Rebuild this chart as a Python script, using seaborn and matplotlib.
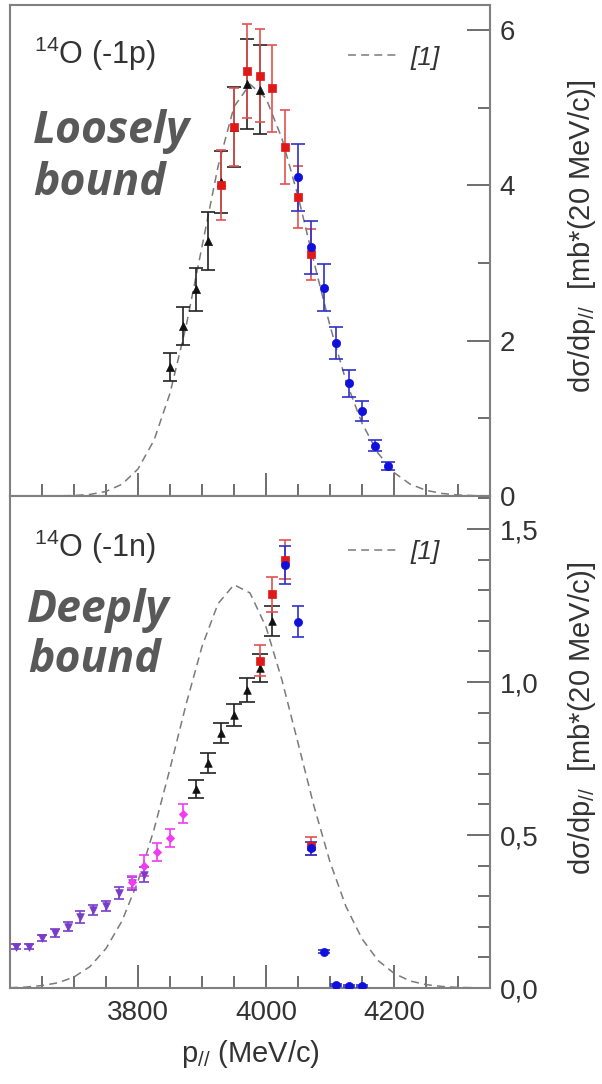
import matplotlib
matplotlib.use("Agg")
import matplotlib.pyplot as plt
from matplotlib.ticker import FixedLocator, FixedFormatter, MultipleLocator
import pandas as pd
import seaborn as sns

# ---------------- data ----------------
# 14O(-1p): loosely bound proton removal
p_black_1p = [3850, 3870, 3890, 3910, 3930, 3950, 3970, 3990]
s_black_1p = [1.66, 2.19, 2.66, 3.28, 4.04, 4.75, 5.30, 5.23]
e_black_1p = [0.18, 0.24, 0.28, 0.37, 0.40, 0.51, 0.58, 0.57]

p_red_1p = [3930, 3950, 3970, 3990, 4010, 4030, 4050, 4070]
s_red_1p = [4.00, 4.75, 5.47, 5.41, 5.25, 4.49, 3.85, 3.11]
e_red_1p = [0.45, 0.50, 0.61, 0.60, 0.56, 0.48, 0.40, 0.33]

p_blue_1p = [4050, 4070, 4090, 4110, 4130, 4150, 4170, 4190]
s_blue_1p = [4.10, 3.20, 2.68, 1.97, 1.45, 1.09, 0.645, 0.39]
e_blue_1p = [0.43, 0.34, 0.30, 0.21, 0.17, 0.13, 0.07, 0.05]

# 14O(-1n): deeply bound neutron removal
p_purple_1n = [3610, 3630, 3650, 3670, 3690, 3710, 3730, 3750, 3770, 3790, 3810]
s_purple_1n = [0.135, 0.135, 0.162, 0.180, 0.200, 0.233, 0.255, 0.268, 0.310, 0.342, 0.370]
e_purple_1n = [0.008, 0.008, 0.010, 0.012, 0.015, 0.020, 0.017, 0.017, 0.020, 0.022, 0.025]

p_magenta_1n = [3790, 3810, 3830, 3850, 3870]
s_magenta_1n = [0.347, 0.400, 0.445, 0.490, 0.570]
e_magenta_1n = [0.020, 0.035, 0.030, 0.030, 0.030]

p_black_1n = [3890, 3910, 3930, 3950, 3970, 3990, 4010]
s_black_1n = [0.650, 0.736, 0.833, 0.892, 0.974, 1.045, 1.200]
e_black_1n = [0.030, 0.032, 0.033, 0.036, 0.038, 0.045, 0.050]

p_red_1n = [3990, 4010, 4030, 4070]
s_red_1n = [1.070, 1.287, 1.400, 0.465]
e_red_1n = [0.050, 0.057, 0.063, 0.030]

p_blue_1n = [4030, 4050, 4070, 4090, 4110, 4130, 4150]
s_blue_1n = [1.382, 1.197, 0.456, 0.119, 0.010, 0.007, 0.006]
e_blue_1n = [0.063, 0.050, 0.022, 0.006, 0.004, 0.004, 0.004]

# calculation [1]
p_calc = [3600, 3625, 3650, 3675, 3700, 3725, 3750, 3775, 3800, 3825, 3850,
          3875, 3900, 3925, 3950, 3975, 4000, 4025, 4050, 4075, 4100, 4125,
          4150, 4175, 4200, 4225, 4250, 4275, 4300, 4325, 4350]
s_calc_1p = [0.000, 0.000, 0.000, 0.002, 0.006, 0.020, 0.059, 0.151, 0.348, 0.717, 1.322,
             2.180, 3.210, 4.240, 5.010, 5.300, 5.120, 4.600, 3.860, 3.010, 2.190, 1.480,
             0.937, 0.552, 0.302, 0.154, 0.073, 0.033, 0.013, 0.005, 0.002]
s_calc_1n = [0.001, 0.003, 0.008, 0.017, 0.036, 0.070, 0.129, 0.219, 0.349, 0.518, 0.717,
             0.926, 1.116, 1.256, 1.318, 1.291, 1.180, 1.006, 0.801, 0.594, 0.412, 0.266,
             0.161, 0.090, 0.048, 0.023, 0.011, 0.005, 0.002, 0.001, 0.000]

x_ticks = [3800, 4000, 4200]
x_ticklabels = ["3800", "4000", "4200"]
y_ticks_1p = [0, 2, 4, 6]
y_ticklabels_1p = ["0", "2", "4", "6"]
y_ticks_1n = [0.0, 0.5, 1.0, 1.5]
y_ticklabels_1n = ["0,0", "0,5", "1,0", "1,5"]

# ---------------- style ----------------
sns.set_theme(style="white")
plt.rcParams["font.family"] = ["Liberation Sans", "DejaVu Sans"]
plt.rcParams["mathtext.fontset"] = "custom"
plt.rcParams["mathtext.rm"] = "Liberation Sans"
plt.rcParams["mathtext.it"] = "Liberation Sans:italic"
plt.rcParams["mathtext.default"] = "regular"

W, H = 602, 1084
fig = plt.figure(figsize=(W / 100, H / 100), dpi=100)
fig.patch.set_facecolor("white")


def fx(px):
    return px / W


def fy(py):
    return 1 - py / H


ax1 = fig.add_axes([fx(10), fy(496), 480 / W, 491 / H])
ax2 = fig.add_axes([fx(10), fy(988), 480 / W, 492 / H])

SPINE = "#808080"
TICK = "#555555"
TXT = "#333333"
CURVE = "#7a7a7a"
DASH = (0, (5.2, 3.4))

BLACK = "#111111"
RED = "#e01818"
RED_E = "#e45050"
BLUE = "#1010dd"
BLUE_E = "#3030cc"
PURPLE = "#7a3cc8"
MAGENTA = "#f03cf0"


def series(ax, p, s, e, color, ecolor, marker, size, capsize):
    ax.errorbar(p, s, yerr=e, fmt="none", ecolor=ecolor, elinewidth=1.2,
                capsize=capsize, capthick=1.2, zorder=3)
    sns.scatterplot(x=p, y=s, ax=ax, marker=marker, s=size, color=color,
                    edgecolor=color, linewidth=0.5, zorder=4, legend=False)


def calc_curve(ax, s_calc):
    df = pd.DataFrame({"p": p_calc, "sigma": s_calc})
    sns.lineplot(data=df, x="p", y="sigma", ax=ax, color=CURVE, lw=1.1,
                 linestyle=DASH, label="[1]", zorder=2, errorbar=None, sort=False)


# top panel
calc_curve(ax1, s_calc_1p)
series(ax1, p_black_1p, s_black_1p, e_black_1p, BLACK, "#222222", "^", 34, 4.7)
series(ax1, p_red_1p, s_red_1p, e_red_1p, RED, RED_E, "s", 26, 3.6)
series(ax1, p_blue_1p, s_blue_1p, e_blue_1p, BLUE, BLUE_E, "o", 36, 4.7)

# bottom panel
calc_curve(ax2, s_calc_1n)
series(ax2, p_purple_1n, s_purple_1n, e_purple_1n, PURPLE, PURPLE, "v", 30, 3.6)
series(ax2, p_magenta_1n, s_magenta_1n, e_magenta_1n, MAGENTA, MAGENTA, "D", 18, 3.6)
series(ax2, p_black_1n, s_black_1n, e_black_1n, BLACK, "#222222", "^", 30, 6.0)
series(ax2, p_red_1n, s_red_1n, e_red_1n, RED, RED_E, "s", 26, 4.3)
series(ax2, p_blue_1n, s_blue_1n, e_blue_1n, BLUE, BLUE_E, "o", 34, 4.3)

ax1.set_ylim(0, 6.32)
ax2.set_ylim(0, 1.608)

for ax, yt, ytl, yminor in ((ax1, y_ticks_1p, y_ticklabels_1p, 1.0),
                             (ax2, y_ticks_1n, y_ticklabels_1n, 0.1)):
    ax.set_xlim(3600, 4350)
    ax.set_facecolor("white")
    ax.xaxis.set_major_locator(FixedLocator(x_ticks))
    ax.xaxis.set_major_formatter(FixedFormatter(x_ticklabels))
    ax.xaxis.set_minor_locator(MultipleLocator(50))
    ax.yaxis.set_major_locator(FixedLocator(yt))
    ax.yaxis.set_major_formatter(FixedFormatter(ytl))
    ax.yaxis.set_minor_locator(MultipleLocator(yminor))
    ax.yaxis.tick_right()
    ax.tick_params(axis="both", which="both", direction="in", color=TICK,
                   width=1.2, labelsize=20, labelcolor=TXT)
    ax.tick_params(axis="both", which="major", length=16.5)
    ax.tick_params(axis="both", which="minor", length=8.5)
    ax.tick_params(axis="x", which="both", top=False, bottom=True, pad=9)
    ax.tick_params(axis="y", which="both", left=False, right=True,
                   labelleft=False, labelright=True, pad=7)
    ax.set_xlabel("")
    ax.set_ylabel("")
    for sp in ax.spines.values():
        sp.set_color(SPINE)
        sp.set_linewidth(1.5)
        sp.set_visible(True)
    ax.legend(loc="center", bbox_to_anchor=(0.80, 0.893 if ax is ax1 else 0.886),
              frameon=False, handlelength=1.9, handletextpad=0.5,
              prop={"style": "italic", "size": 19, "family": "Liberation Sans"},
              labelcolor=TXT)

ax1.tick_params(axis="x", which="both", labelbottom=False)

# axis titles
ax2.set_xlabel("p$_{//}$ (MeV/c)", fontsize=21, color=TXT, labelpad=8)
ylab = "dσ/dp$_{//}$  [mb*(20 MeV/c)]"
fig.text(fx(582), fy(236), ylab, rotation=90, ha="center", va="center",
         fontsize=21, color=TXT)
fig.text(fx(582), fy(718), ylab, rotation=90, ha="center", va="center",
         fontsize=21, color=TXT)

# reaction tags
fig.text(fx(34), fy(64), "$^{14}$O (-1p)", fontsize=22, color=TXT, va="baseline")
fig.text(fx(34), fy(557), "$^{14}$O (-1n)", fontsize=22, color=TXT, va="baseline")

BIG = dict(fontsize=32, color="#595959", fontweight="bold", fontstyle="italic",
           family=["Open Sans", "DejaVu Sans"], va="baseline")
fig.text(fx(33), fy(143), "Loosely", **BIG)
fig.text(fx(33), fy(195), "bound", **BIG)
fig.text(fx(27), fy(622), "Deeply", **BIG)
fig.text(fx(28), fy(672), "bound", **BIG)

fig.savefig("out.png", dpi=100, facecolor="white")
